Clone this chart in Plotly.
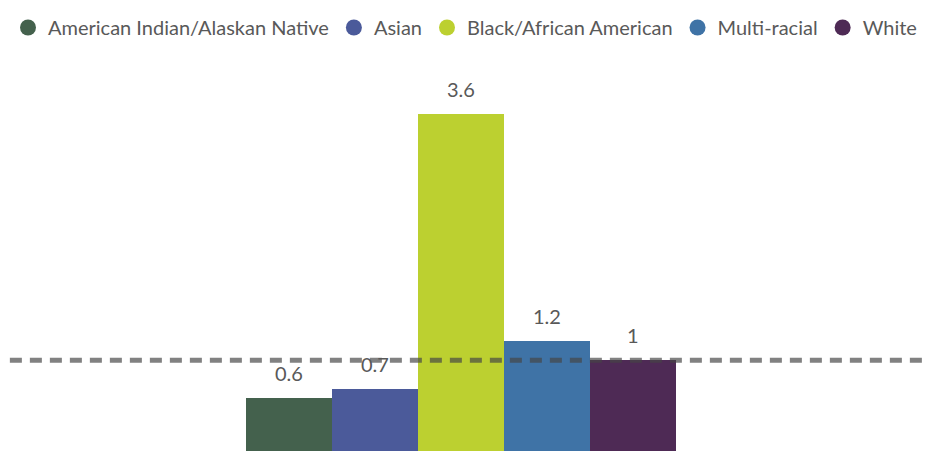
import plotly.graph_objects as go

groups = ["American Indian/Alaskan Native", "Asian", "Black/African American", "Multi-racial", "White"]
values = [0.6, 0.7, 3.6, 1.2, 1]
colors = ["#44614d", "#4b5a9a", "#bcd030", "#3f73a6", "#4e2a55"]
reference_value = 1

font_family = "Lato, Open Sans, sans-serif"
text_color = "#595959"

fig = go.Figure()
for name, v, c in zip(groups, values, colors):
    fig.add_bar(x=[name], y=[v], marker_color=c, marker_line_width=0,
                showlegend=False, hoverinfo="skip")
    # circle legend entry
    fig.add_scatter(x=[None], y=[None], mode="markers", name=name,
                    marker=dict(symbol="circle", size=16, color=c))
    fig.add_annotation(x=name, y=v, text=str(v), showarrow=False, yanchor="middle",
                       yshift=25, font=dict(size=20, color=text_color, family=font_family))

fig.add_shape(type="line", xref="paper", yref="y", x0=0.002, x1=1,
              y0=reference_value, y1=reference_value,
              line=dict(color="rgba(70,70,70,0.68)", width=5, dash="12px,8px"))

fig.update_layout(
    width=935, height=451,
    margin=dict(l=0, r=0, t=60, b=4),
    plot_bgcolor="white", paper_bgcolor="white",
    font=dict(family=font_family, color=text_color, size=20),
    bargap=0, barmode="overlay",
    showlegend=True,
    legend=dict(orientation="h", x=0, xanchor="left", y=1, yanchor="top",
                yref="container", font=dict(size=20, color=text_color),
                itemclick=False, tracegroupgap=0, itemsizing="trace"),
    xaxis=dict(type="category", range=[-3.267, 7.603], visible=False, fixedrange=True),
    yaxis=dict(range=[0, 4.08], visible=False, fixedrange=True),
)

fig.write_html("out.html")
